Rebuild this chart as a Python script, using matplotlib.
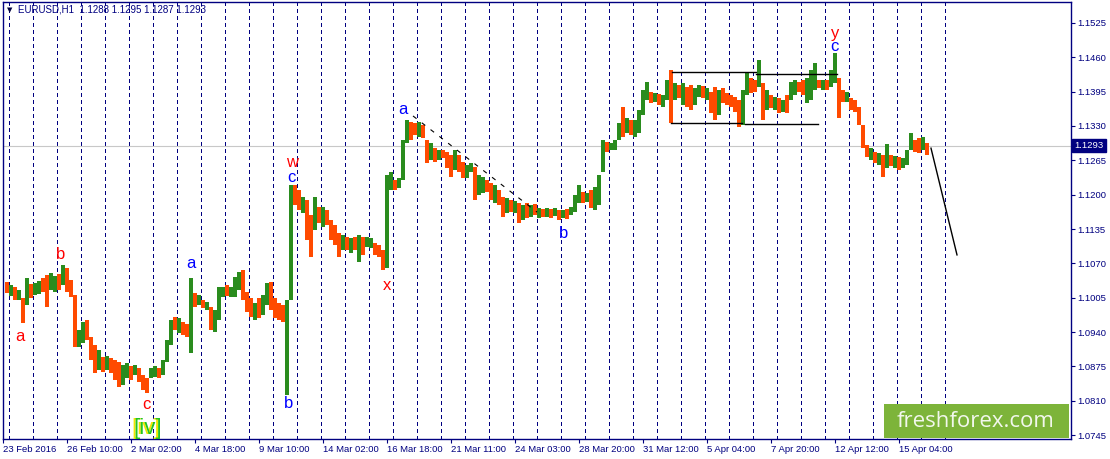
import matplotlib
matplotlib.use('Agg')
import matplotlib.pyplot as plt
import numpy as np
from matplotlib.patches import Rectangle

plt.rcParams['font.family'] = ['Liberation Sans', 'DejaVu Sans']

NAVY = '#000080'
UP = '#2a8c1e'
DOWN = '#ff4a00'

symbol = 'EURUSD,H1'
last_ohlc = ['1.1288', '1.1295', '1.1287', '1.1293']
last_price = 1.1293
bar_hours = 4          # each drawn bar groups 4 hourly bars
first_open = 1.1025

high = np.array([
    1.1035, 1.1029, 1.1025, 1.1020, 1.1004, 1.1042, 1.1031, 1.1033, 1.1037, 1.1042,
    1.1048, 1.1052, 1.1046, 1.1050, 1.1067, 1.1061, 1.1039, 1.1010, 1.0944, 1.0959,
    1.0963, 1.0931, 1.0915, 1.0906, 1.0893, 1.0895, 1.0891, 1.0887, 1.0883, 1.0878,
    1.0881, 1.0876, 1.0878, 1.0872, 1.0859, 1.0853, 1.0872, 1.0876, 1.0872, 1.0887,
    1.0925, 1.0963, 1.0968, 1.0967, 1.0959, 1.0955, 1.1042, 1.1014, 1.1010, 1.1001,
    1.0997, 1.0987, 1.0982, 1.1025, 1.1025, 1.1029, 1.1025, 1.1044, 1.1054, 1.1057,
    1.1016, 1.1004, 1.0995, 1.1004, 1.1010, 1.1033, 1.1035, 1.1004, 1.0995, 1.0991,
    1.1001, 1.1218, 1.1218, 1.1209, 1.1196, 1.1190, 1.1162, 1.1196, 1.1177, 1.1177,
    1.1171, 1.1152, 1.1143, 1.1127, 1.1124, 1.1120, 1.1118, 1.1120, 1.1124, 1.1120,
    1.1120, 1.1118, 1.1109, 1.1105, 1.1095, 1.1237, 1.1243, 1.1228, 1.1232, 1.1304,
    1.1341, 1.1337, 1.1336, 1.1337, 1.1332, 1.1304, 1.1298, 1.1288, 1.1285, 1.1285,
    1.1281, 1.1275, 1.1285, 1.1275, 1.1262, 1.1256, 1.1260, 1.1252, 1.1237, 1.1233,
    1.1228, 1.1222, 1.1218, 1.1209, 1.1196, 1.1194, 1.1190, 1.1188, 1.1184, 1.1180,
    1.1184, 1.1180, 1.1182, 1.1175, 1.1173, 1.1175, 1.1173, 1.1175, 1.1171, 1.1171,
    1.1173, 1.1177, 1.1199, 1.1218, 1.1205, 1.1203, 1.1209, 1.1215, 1.1237, 1.1304,
    1.1300, 1.1298, 1.1304, 1.1336, 1.1366, 1.1345, 1.1341, 1.1341, 1.1360, 1.1398,
    1.1413, 1.1394, 1.1392, 1.1391, 1.1389, 1.1417, 1.1436, 1.1411, 1.1408, 1.1411,
    1.1404, 1.1408, 1.1402, 1.1408, 1.1406, 1.1402, 1.1394, 1.1404, 1.1398, 1.1402,
    1.1392, 1.1389, 1.1385, 1.1379, 1.1398, 1.1432, 1.1421, 1.1417, 1.1455, 1.1411,
    1.1398, 1.1389, 1.1385, 1.1383, 1.1379, 1.1389, 1.1413, 1.1417, 1.1413, 1.1417,
    1.1421, 1.1436, 1.1449, 1.1417, 1.1417, 1.1417, 1.1436, 1.1468, 1.1421, 1.1398,
    1.1394, 1.1383, 1.1379, 1.1366, 1.1332, 1.1294, 1.1288, 1.1281, 1.1279, 1.1275,
    1.1296, 1.1275, 1.1273, 1.1271, 1.1269, 1.1285, 1.1317, 1.1304, 1.1307, 1.1309,
    1.1298,
])

low = np.array([
    1.1014, 1.1008, 1.1001, 1.1001, 1.0957, 1.0991, 1.1004, 1.1010, 1.1012, 1.1016,
    1.0987, 1.1020, 1.1016, 1.1020, 1.1029, 1.1016, 1.1006, 1.0912, 1.0912, 1.0919,
    1.0925, 1.0887, 1.0862, 1.0868, 1.0864, 1.0868, 1.0862, 1.0849, 1.0836, 1.0840,
    1.0853, 1.0849, 1.0859, 1.0845, 1.0830, 1.0825, 1.0853, 1.0855, 1.0853, 1.0859,
    1.0883, 1.0915, 1.0944, 1.0938, 1.0934, 1.0931, 1.0900, 1.0987, 1.0991, 1.0985,
    1.0982, 1.0944, 1.0940, 1.0963, 1.1006, 1.1008, 1.1006, 1.1006, 1.1020, 1.1001,
    1.0978, 1.0968, 1.0963, 1.0967, 1.0972, 1.0991, 1.0982, 1.0967, 1.0963, 1.0959,
    1.0821, 1.1001, 1.1180, 1.1171, 1.1165, 1.1114, 1.1082, 1.1133, 1.1146, 1.1139,
    1.1143, 1.1114, 1.1105, 1.1082, 1.1095, 1.1095, 1.1090, 1.1095, 1.1073, 1.1086,
    1.1101, 1.1099, 1.1086, 1.1082, 1.1057, 1.1061, 1.1209, 1.1209, 1.1213, 1.1228,
    1.1298, 1.1304, 1.1313, 1.1309, 1.1307, 1.1260, 1.1266, 1.1262, 1.1266, 1.1269,
    1.1250, 1.1233, 1.1247, 1.1243, 1.1232, 1.1232, 1.1243, 1.1190, 1.1199, 1.1203,
    1.1205, 1.1190, 1.1184, 1.1180, 1.1158, 1.1165, 1.1167, 1.1165, 1.1146, 1.1152,
    1.1156, 1.1158, 1.1162, 1.1156, 1.1158, 1.1158, 1.1156, 1.1160, 1.1152, 1.1156,
    1.1154, 1.1162, 1.1167, 1.1184, 1.1184, 1.1186, 1.1175, 1.1171, 1.1180, 1.1243,
    1.1281, 1.1285, 1.1285, 1.1304, 1.1309, 1.1317, 1.1313, 1.1309, 1.1317, 1.1351,
    1.1379, 1.1374, 1.1376, 1.1370, 1.1366, 1.1379, 1.1336, 1.1379, 1.1383, 1.1370,
    1.1366, 1.1360, 1.1370, 1.1385, 1.1383, 1.1379, 1.1355, 1.1341, 1.1351, 1.1374,
    1.1370, 1.1366, 1.1357, 1.1328, 1.1332, 1.1389, 1.1392, 1.1394, 1.1404, 1.1341,
    1.1360, 1.1364, 1.1360, 1.1355, 1.1357, 1.1355, 1.1379, 1.1389, 1.1394, 1.1389,
    1.1374, 1.1379, 1.1398, 1.1402, 1.1398, 1.1398, 1.1404, 1.1411, 1.1345, 1.1376,
    1.1376, 1.1360, 1.1357, 1.1332, 1.1288, 1.1271, 1.1266, 1.1260, 1.1256, 1.1233,
    1.1250, 1.1254, 1.1250, 1.1247, 1.1250, 1.1256, 1.1285, 1.1281, 1.1279, 1.1285,
    1.1275,
])

close = np.array([
    1.1020, 1.1023, 1.1006, 1.1014, 1.0967, 1.1033, 1.1014, 1.1027, 1.1033, 1.1021,
    1.1020, 1.1046, 1.1048, 1.1027, 1.1061, 1.1025, 1.1012, 1.0925, 1.0938, 1.0953,
    1.0931, 1.0897, 1.0872, 1.0897, 1.0872, 1.0887, 1.0868, 1.0859, 1.0845, 1.0872,
    1.0878, 1.0857, 1.0874, 1.0849, 1.0836, 1.0830, 1.0868, 1.0874, 1.0859, 1.0883,
    1.0919, 1.0957, 1.0950, 1.0963, 1.0940, 1.0936, 1.1010, 1.0993, 1.1006, 1.0989,
    1.0995, 1.0952, 1.0970, 1.1020, 1.1023, 1.1012, 1.1021, 1.1039, 1.1050, 1.1008,
    1.0985, 1.0970, 1.0991, 1.0972, 1.1004, 1.1027, 1.0989, 1.0970, 1.0968, 1.0965,
    1.0997, 1.1209, 1.1190, 1.1180, 1.1190, 1.1124, 1.1095, 1.1186, 1.1152, 1.1171,
    1.1148, 1.1122, 1.1110, 1.1092, 1.1118, 1.1103, 1.1114, 1.1101, 1.1118, 1.1095,
    1.1114, 1.1116, 1.1092, 1.1086, 1.1065, 1.1228, 1.1239, 1.1213, 1.1228, 1.1298,
    1.1332, 1.1313, 1.1311, 1.1332, 1.1311, 1.1269, 1.1292, 1.1269, 1.1281, 1.1273,
    1.1256, 1.1243, 1.1279, 1.1250, 1.1237, 1.1250, 1.1258, 1.1199, 1.1228, 1.1230,
    1.1209, 1.1196, 1.1213, 1.1186, 1.1165, 1.1188, 1.1173, 1.1184, 1.1154, 1.1175,
    1.1162, 1.1177, 1.1167, 1.1171, 1.1162, 1.1171, 1.1160, 1.1171, 1.1156, 1.1167,
    1.1158, 1.1173, 1.1194, 1.1213, 1.1190, 1.1199, 1.1180, 1.1209, 1.1232, 1.1298,
    1.1285, 1.1296, 1.1302, 1.1330, 1.1319, 1.1341, 1.1319, 1.1336, 1.1355, 1.1392,
    1.1408, 1.1379, 1.1389, 1.1376, 1.1385, 1.1411, 1.1389, 1.1406, 1.1389, 1.1404,
    1.1374, 1.1368, 1.1398, 1.1404, 1.1389, 1.1398, 1.1360, 1.1351, 1.1392, 1.1379,
    1.1374, 1.1370, 1.1362, 1.1334, 1.1389, 1.1425, 1.1402, 1.1398, 1.1448, 1.1360,
    1.1389, 1.1370, 1.1379, 1.1360, 1.1374, 1.1364, 1.1408, 1.1413, 1.1398, 1.1392,
    1.1417, 1.1427, 1.1440, 1.1406, 1.1413, 1.1402, 1.1430, 1.1459, 1.1379, 1.1377,
    1.1391, 1.1366, 1.1360, 1.1337, 1.1294, 1.1275, 1.1285, 1.1266, 1.1275, 1.1247,
    1.1285, 1.1260, 1.1269, 1.1252, 1.1266, 1.1281, 1.1309, 1.1288, 1.1285, 1.1304,
    1.1293,
])

# axis labels: one every 64 hourly bars, bar 0 = 23 Feb 18:00
date_labels = ['23 Feb 2016', '26 Feb 10:00', '2 Mar 02:00', '4 Mar 18:00',
               '9 Mar 10:00', '14 Mar 02:00', '16 Mar 18:00', '21 Mar 11:00',
               '24 Mar 03:00', '28 Mar 20:00', '31 Mar 12:00', '5 Apr 04:00',
               '7 Apr 20:00', '12 Apr 12:00', '15 Apr 04:00']
label_every = 64
first_midnight = 6   # hour index of the first day separator
price_ticks = [1.1525, 1.1460, 1.1395, 1.1330, 1.1265, 1.1200, 1.1135,
               1.1070, 1.1005, 1.0940, 1.0875, 1.0810, 1.0745]

# wave marks: (text, hour, price, colour)
waves = [('a', 17, 1.0931, 'red'), ('b', 58, 1.1086, 'red'),
         ('c', 143, 1.0802, 'red'), ('a', 188, 1.1069, 'blue'),
         ('w', 289, 1.1260, 'red'), ('c', 288, 1.1233, 'blue'),
         ('b', 286, 1.0804, 'blue'), ('x', 384, 1.1029, 'red'),
         ('a', 400, 1.1362, 'blue'), ('b', 561, 1.1127, 'blue'),
         ('y', 832, 1.1506, 'red'), ('c', 831, 1.1480, 'blue')]

W, H = 1110, 459
fig = plt.figure(figsize=(W / 100, H / 100), dpi=100)
ax = fig.add_axes([3 / W, (H - 439) / H, 1068 / W, 437 / H])
ax.set_xlim(0, 1068)
ax.set_ylim(1.07375, 1.15647)

# day separators
for h in range(first_midnight, 950, 24):
    ax.axvline(h, color=NAVY, lw=0.8, ls=(0, (3.5, 3)), zorder=0,
               antialiased=False)

ax.axhline(last_price, color='#c8c8c8', lw=0.8, zorder=0.5)

n = len(close)
opens = np.concatenate([[first_open], close[:-1]])
xs = bar_hours * np.arange(n) + 4
cols = np.where(close > opens, UP, np.where(close < opens, DOWN, 'black'))
ax.vlines(xs, low, high, colors=cols, linewidth=bar_hours * 0.72,
          antialiased=False, zorder=2)

# drawn objects
ax.plot([410, 534], [1.1349, 1.1167], color='black', lw=0.8,
        ls=(0, (4, 6)), zorder=3)
ax.plot([669, 753], [1.1432, 1.1432], color='black', lw=1, zorder=3)
ax.plot([753, 834], [1.1429, 1.1429], color='black', lw=1, zorder=3)
ax.plot([668, 739], [1.1336, 1.1336], color='black', lw=1, zorder=3)
ax.plot([742, 815], [1.1334, 1.1334], color='black', lw=1, zorder=3)
ax.plot([928, 954], [1.1288, 1.1086], color='black', lw=1, zorder=3)

for txt, h, p, c in waves:
    ax.text(h, p, txt, color=c, fontsize=12, ha='center', va='center', zorder=4)
ax.text(143, 1.0758, '[iv]', color='#f2e600', fontsize=16, ha='center',
        va='center', zorder=4)
ax.text(145, 1.0758, '[iv]', color='#22c422', fontsize=16, ha='center',
        va='center', zorder=4)

# header
ax.text(0.004, 0.982, '\u25bc', transform=ax.transAxes, fontsize=5,
        color='#000040', ha='left', va='center', family='DejaVu Sans')
ax.text(0.0145, 0.982, symbol + '  ' + ' '.join(last_ohlc),
        transform=ax.transAxes, fontsize=7, color=NAVY,
        ha='left', va='center')

for s in ax.spines.values():
    s.set_color(NAVY)
    s.set_linewidth(1.0)

ax.set_xticks(np.arange(len(date_labels)) * label_every)
ax.set_xticklabels(date_labels)
for t in ax.get_xticklabels():
    t.set_ha('left')
ax.tick_params(axis='x', direction='out', length=3, width=0.8, color=NAVY,
               labelcolor=NAVY, labelsize=6.8, pad=1)
ax.yaxis.tick_right()
ax.set_yticks(price_ticks)
ax.set_yticklabels(['%.4f' % v for v in price_ticks])
ax.tick_params(axis='y', direction='out', length=3, width=0.8, color=NAVY,
               labelcolor=NAVY, labelsize=6.8, pad=1.5)

ax.annotate('%.4f' % last_price, xy=(1.0, last_price),
            xycoords=('axes fraction', 'data'), xytext=(2.5, 0),
            textcoords='offset points', ha='left', va='center',
            color='white', fontsize=6.8, zorder=6, annotation_clip=False,
            bbox=dict(boxstyle='square,pad=0.25', fc=NAVY, ec=NAVY))

# watermark
ax.add_patch(Rectangle((881 / 1068, 0.002), 185 / 1068, 0.078,
                       transform=ax.transAxes, fc='#7db43a', ec='none',
                       zorder=8))
ax.text((881 + 92) / 1068, 0.041, 'freshforex.com', transform=ax.transAxes,
        fontsize=16, color='#f2f7ec', ha='center', va='center',
        family='Open Sans', zorder=9)

fig.savefig('out.png', dpi=100, facecolor='white')
